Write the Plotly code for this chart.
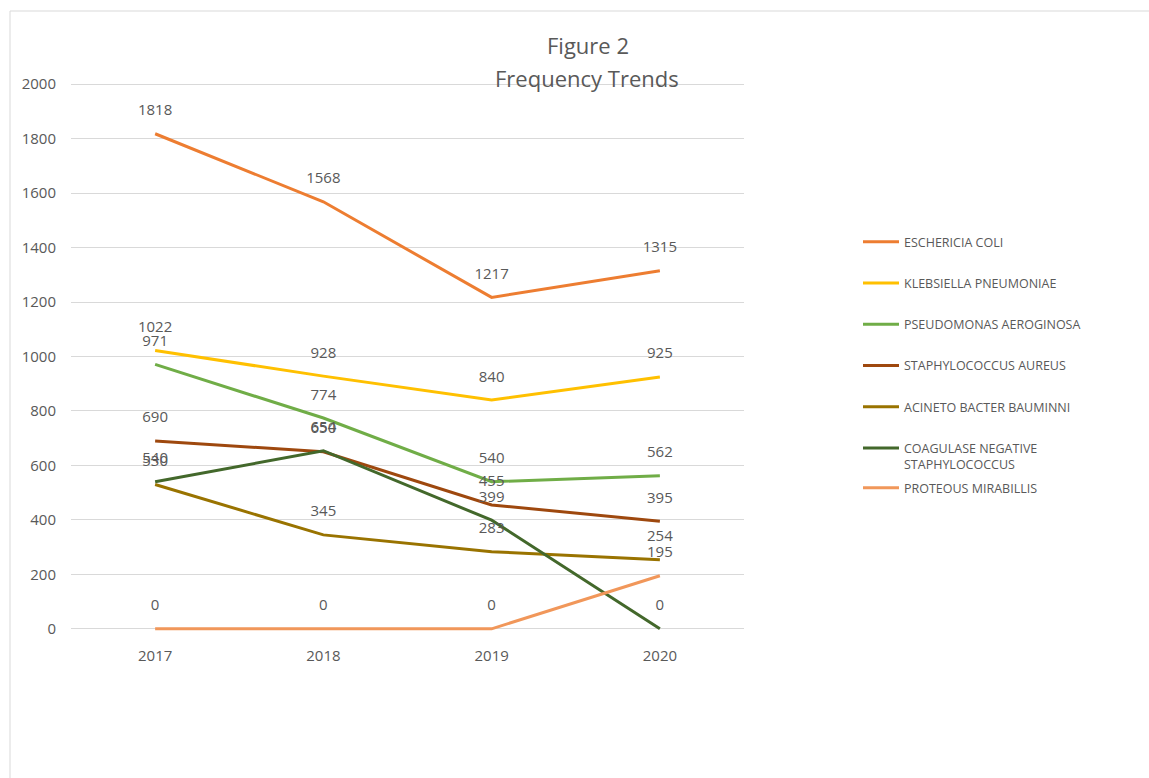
import plotly.graph_objects as go

years = ["2017", "2018", "2019", "2020"]
series_names = [
    "ESCHERICIA COLI",
    "KLEBSIELLA PNEUMONIAE",
    "PSEUDOMONAS AEROGINOSA",
    "STAPHYLOCOCCUS AUREUS",
    "ACINETO BACTER BAUMINNI",
    "COAGULASE NEGATIVE<br>STAPHYLOCOCCUS",
    "PROTEOUS MIRABILLIS",
]
e_coli = [1818, 1568, 1217, 1315]
klebsiella = [1022, 928, 840, 925]
pseudomonas = [971, 774, 540, 562]
staph_aureus = [690, 650, 455, 395]
acinetobacter = [530, 345, 283, 254]
coag_neg_staph = [540, 654, 399, 0]
proteus = [0, 0, 0, 195]
y_ticks = [0, 200, 400, 600, 800, 1000, 1200, 1400, 1600, 1800, 2000]

values = [e_coli, klebsiella, pseudomonas, staph_aureus, acinetobacter, coag_neg_staph, proteus]
colors = ["#ED7D31", "#FFC000", "#70AD47", "#9E480E", "#997300", "#43682B", "#F1975A"]

W, H = 1149, 778
FONT = "Open Sans"
GREY = "#595959"

fig = go.Figure()
# lines (shown in legend)
for i, (name, vals, col) in enumerate(zip(series_names, values, colors)):
    fig.add_trace(go.Scatter(
        x=years, y=vals, name=name,
        mode="lines",
        line=dict(color=col, width=3),
        legendgroup=f"g{i}",
        legend="legend2" if i == 6 else "legend",
        hoverinfo="x+y+name",
    ))
# data labels
for i, (name, vals, col) in enumerate(zip(series_names, values, colors)):
    fig.add_trace(go.Scatter(
        x=years, y=vals, name=name,
        mode="markers+text",
        marker=dict(size=22, opacity=0, color=col),
        text=[str(v) for v in vals],
        textposition="top center",
        textfont=dict(family=FONT, size=15, color=GREY),
        showlegend=False, hoverinfo="skip",
        cliponaxis=False,
    ))

def px_x(p):
    return p / W

def px_y(p):
    return 1 - p / H

fig.update_layout(
    width=W, height=H,
    margin=dict(l=0, r=0, t=0, b=0),
    paper_bgcolor="white", plot_bgcolor="white",
    font=dict(family=FONT, color=GREY),
    xaxis=dict(
        domain=[px_x(71), px_x(744)],
        type="category", range=[-0.5, 3.5],
        showgrid=False, zeroline=False, showline=False,
        ticks="", ticklabelstandoff=14,
        tickfont=dict(size=15, color=GREY),
        automargin=False, fixedrange=True,
    ),
    yaxis=dict(
        domain=[px_y(631), px_y(82)],
        range=[-8, 2008], tickvals=y_ticks,
        showgrid=True, gridcolor="#D9D9D9", gridwidth=1,
        zeroline=False, showline=False,
        ticks="", ticklabelstandoff=14,
        tickfont=dict(size=15, color=GREY),
        automargin=False, fixedrange=True,
    ),
    legend=dict(
        x=px_x(858), y=px_y(227), xanchor="left", yanchor="top",
        font=dict(size=12.5, color=GREY, family=FONT),
        tracegroupgap=22, valign="top", itemwidth=36,
        bgcolor="rgba(0,0,0,0)",
    ),
    legend2=dict(
        x=px_x(858), y=px_y(488), xanchor="left", yanchor="middle",
        font=dict(size=12.5, color=GREY, family=FONT),
        itemwidth=36,
        bgcolor="rgba(0,0,0,0)",
    ),
    annotations=[
        dict(text="Figure 2", x=px_x(588), y=px_y(45), xref="paper", yref="paper",
             xanchor="center", yanchor="middle",
             showarrow=False, font=dict(size=22, color=GREY, family=FONT)),
        dict(text="Frequency Trends", x=px_x(587), y=px_y(78), xref="paper", yref="paper",
             xanchor="center", yanchor="middle",
             showarrow=False, font=dict(size=22, color=GREY, family=FONT)),
    ],
    shapes=[
        dict(type="line", xref="paper", yref="paper", x0=px_x(10), x1=1, y0=px_y(11), y1=px_y(11),
             line=dict(color="#D9D9D9", width=1)),
        dict(type="line", xref="paper", yref="paper", x0=px_x(10), x1=px_x(10), y0=0, y1=px_y(11),
             line=dict(color="#D9D9D9", width=1)),
    ],
)

fig.write_html("out.html")
